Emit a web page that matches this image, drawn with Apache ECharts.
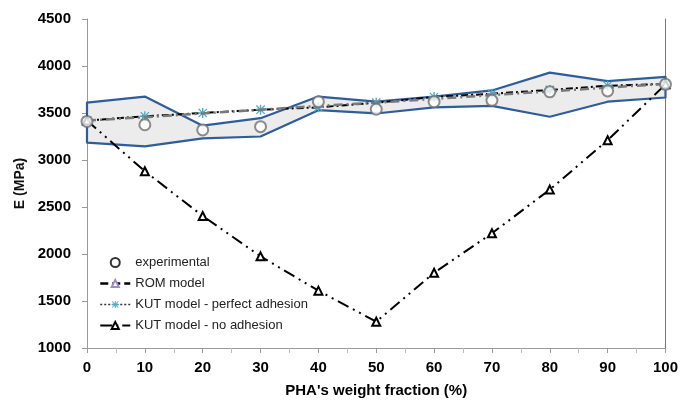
<!DOCTYPE html>
<html>
<head>
<meta charset="utf-8">
<script src="https://cdn.jsdelivr.net/npm/echarts@6/dist/echarts.min.js"></script>
<style>
    html, body { margin: 0; padding: 0; background: #fff; }
    #chart { width: 681px; height: 412px; }
</style>
</head>
<body>
<div id="chart"></div>
<script type="text/javascript">
    // PHA weight fraction (%)
    var fractions = [0, 10, 20, 30, 40, 50, 60, 70, 80, 90, 100];
    var experimental = [3410, 3375, 3320, 3355, 3620, 3540, 3620, 3635, 3725, 3735, 3805];
    var romModel = [3420, 3455, 3495, 3535, 3575, 3610, 3650, 3690, 3730, 3770, 3810];
    var kutPerfect = [3420, 3465, 3500, 3535, 3560, 3610, 3670, 3705, 3745, 3790, 3810];
    var kutNoAdhesion = [3420, 2880, 2405, 1975, 1610, 1280, 1800, 2220, 2685, 3210, 3805];
    // experimental scatter band
    var bandUpper = [3610, 3675, 3365, 3445, 3675, 3620, 3675, 3740, 3930, 3840, 3885];
    var bandLower = [3185, 3145, 3230, 3250, 3530, 3495, 3560, 3575, 3460, 3620, 3665];
    var yTicks = [1000, 4500, 500];

    function pairs(ys) {
        return fractions.map(function (x, i) { return [x, ys[i]]; });
    }

    var asterisk = 'path://M4.3,0h1.4v10h-1.4z M0,4.3h10v1.4h-10z M1.3,0.4 L9.6,8.7 L8.7,9.6 L0.4,1.3z M8.7,0.4 L9.6,1.3 L1.3,9.6 L0.4,8.7z';
    var font = '"Liberation Sans", Arial, sans-serif';

    var myChart = echarts.init(document.getElementById('chart'));
    var option = {
        animation: false,
        textStyle: { fontFamily: font },
        grid: { left: 87, right: 13, top: 19, bottom: 64, containLabel: false },
        legend: {
            orient: 'vertical',
            left: 94,
            top: 251,
            itemWidth: 30,
            itemHeight: 9,
            itemGap: 8,
            textStyle: { fontFamily: font, fontSize: 13, color: '#222' },
            data: [
                { name: 'experimental', itemStyle: { color: '#000', borderColor: '#000', borderWidth: 2.5 } },
                { name: 'ROM model', lineStyle: { color: '#000', type: [8, 4], width: 2.5 }, itemStyle: { color: '#9c8fc4' } },
                { name: 'KUT model - perfect adhesion', lineStyle: { color: '#333', type: [2, 2], width: 1.5 } },
                { name: 'KUT model - no adhesion', lineStyle: { color: '#000', type: [12, 4, 2, 4], width: 2 } }
            ]
        },
        xAxis: {
            type: 'value',
            min: 0,
            max: 100,
            interval: 10,
            name: "PHA's weight fraction (%)",
            nameLocation: 'middle',
            nameGap: 35,
            nameTextStyle: { fontFamily: font, fontSize: 15, fontWeight: 'bold', color: '#000' },
            axisLine: { show: true, lineStyle: { color: '#999', width: 1 } },
            axisTick: { show: true, length: 5, lineStyle: { color: '#999' } },
            minorTick: { show: true, splitNumber: 2, length: 5, lineStyle: { color: '#bbb' } },
            axisLabel: { fontFamily: font, fontSize: 15, fontWeight: 'bold', color: '#000', margin: 12 },
            splitLine: { show: false }
        },
        yAxis: [{
            type: 'value',
            min: yTicks[0],
            max: yTicks[1],
            interval: yTicks[2],
            name: 'E (MPa)',
            nameLocation: 'middle',
            nameGap: 48,
            nameTextStyle: { fontFamily: font, fontSize: 14, fontWeight: 'bold', color: '#111' },
            axisLine: { show: true, lineStyle: { color: '#999', width: 1 } },
            axisTick: { show: true, length: 5, lineStyle: { color: '#999' } },
            axisLabel: {
                fontFamily: font, fontSize: 15, fontWeight: 'bold', color: '#000', margin: 16,
                formatter: function (v) { return String(v); }
            },
            splitLine: { show: false }
        }, {
            type: 'value',
            position: 'right',
            min: yTicks[0],
            max: yTicks[1],
            axisLine: { show: true, lineStyle: { color: '#777', width: 1 } },
            axisTick: { show: false },
            axisLabel: { show: false },
            splitLine: { show: false }
        }],
        series: [
            {
                name: 'band',
                type: 'custom',
                z: 1,
                silent: true,
                data: [0],
                renderItem: function (params, api) {
                    var pts = [];
                    for (var i = 0; i < fractions.length; i++) {
                        pts.push(api.coord([fractions[i], bandUpper[i]]));
                    }
                    for (var j = fractions.length - 1; j >= 0; j--) {
                        pts.push(api.coord([fractions[j], bandLower[j]]));
                    }
                    return {
                        type: 'polygon',
                        shape: { points: pts },
                        style: { fill: '#ececec', stroke: '#2f5d9a', lineWidth: 2.2, lineJoin: 'round' }
                    };
                }
            },
            {
                name: 'KUT model - perfect adhesion',
                type: 'line',
                z: 3,
                data: pairs(kutPerfect),
                symbol: asterisk,
                symbolSize: 10,
                itemStyle: { color: '#4bacc6' },
                lineStyle: { color: '#000', width: 2, type: [7, 3, 2, 3] }
            },
            {
                name: 'ROM model',
                type: 'line',
                z: 4,
                data: pairs(romModel),
                symbol: 'emptyTriangle',
                symbolSize: 0,
                itemStyle: { color: '#9c8fc4' },
                lineStyle: { color: '#7a7a7a', width: 2.5, type: [9, 4, 2, 4] }
            },
            {
                name: 'KUT model - no adhesion',
                type: 'line',
                z: 3,
                data: pairs(kutNoAdhesion),
                symbol: 'emptyTriangle',
                symbolSize: 8,
                itemStyle: { color: '#000', borderWidth: 1.2 },
                lineStyle: { color: '#000', width: 2, type: [12, 5, 2, 5, 2, 5] }
            },
            {
                name: 'experimental',
                type: 'scatter',
                z: 5,
                data: pairs(experimental),
                symbol: 'emptyCircle',
                symbolSize: 11,
                itemStyle: { color: '#707070', borderWidth: 2.8 }
            }
        ]
    };
    myChart.setOption(option);
</script>
</body>
</html>
